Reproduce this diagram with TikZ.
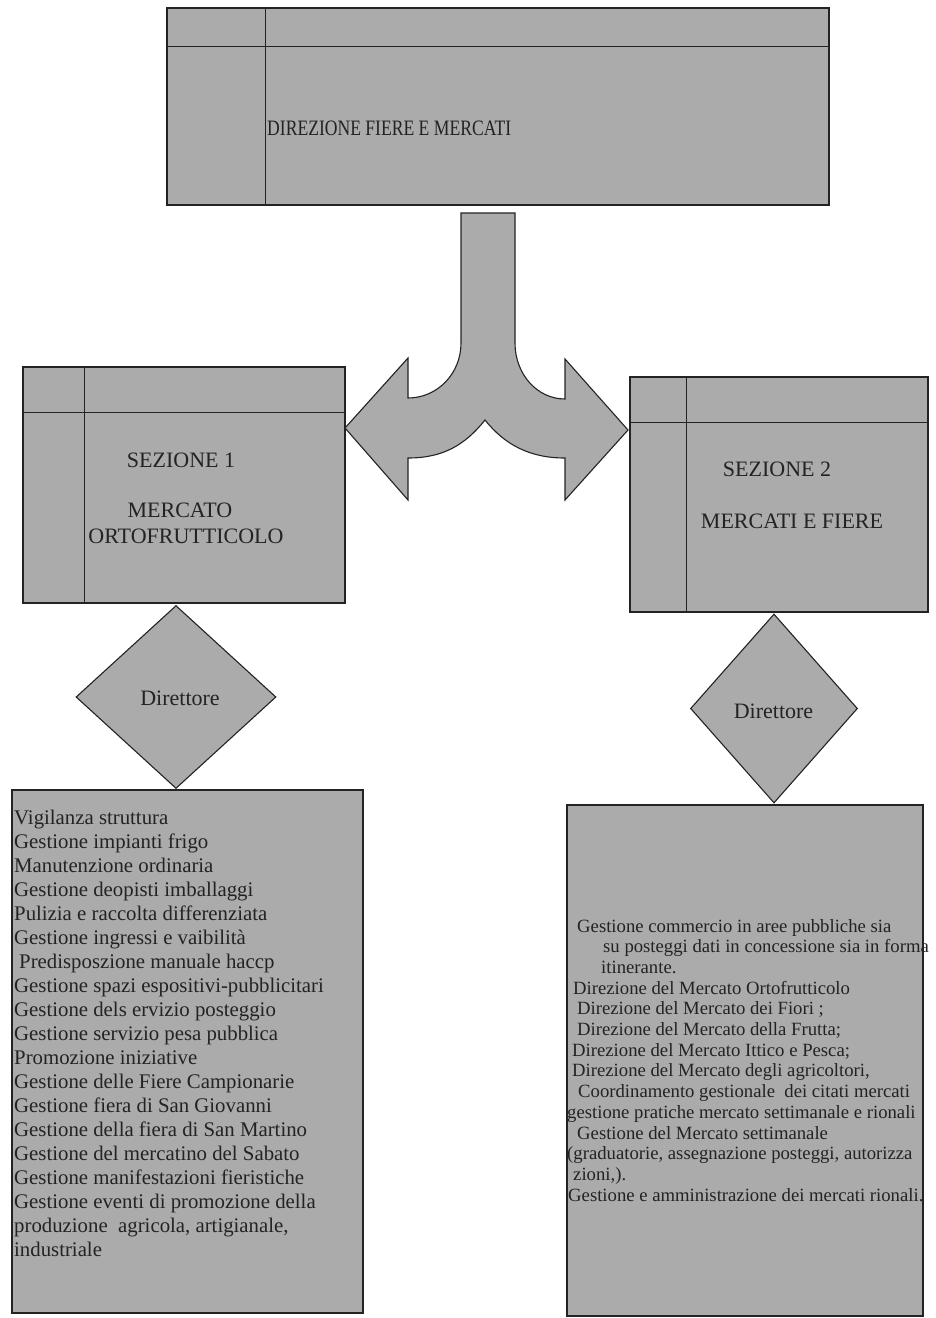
\documentclass[tikz,border=0pt]{standalone}
\usepackage{fontspec}
\setmainfont{Liberation Serif}
\usepackage{graphicx}
\usetikzlibrary{shapes.geometric}
\definecolor{boxgray}{RGB}{171,171,171}
\definecolor{inkgray}{RGB}{35,35,35}

\begin{document}
\begin{tikzpicture}[x=1pt, y=-1pt,
    box/.style={draw=inkgray, line width=1.1pt, fill=boxgray, inner sep=0pt},
    rombo/.style={box, diamond, font=\fontsize{22}{26}\selectfont, text=inkgray},
    riga/.style={draw=inkgray, line width=1.6pt},
    titolo/.style={font=\fontsize{22}{26}\selectfont, text=inkgray, inner sep=0pt},
    voce/.style={anchor=base west, inner sep=0pt, text=inkgray}]
  \useasboundingbox (0,0) rectangle (936,1318);

  % direzione
  \node [box, minimum width=662pt, minimum height=197pt] at (498,106.5) (dir) {};
  \draw [riga] ([yshift=-39pt]dir.north west) -- ([yshift=-39pt]dir.north east);
  \draw [riga] ([xshift=99pt]dir.north west) -- ([xshift=99pt]dir.south west);
  \node [titolo, anchor=base west] at (267,135) (t0) {\scalebox{0.8}[1]{DIREZIONE FIERE E MERCATI}};

  % sezioni
  \node [box, minimum width=322pt, minimum height=236pt] at (184,485) (s1) {};
  \draw [riga] ([yshift=-46pt]s1.north west) -- ([yshift=-46pt]s1.north east);
  \draw [riga] ([xshift=62pt]s1.north west) -- ([xshift=62pt]s1.south west);
  \node [box, minimum width=298pt, minimum height=235pt] at (779,494.5) (s2) {};
  \draw [riga] ([yshift=-46pt]s2.north west) -- ([yshift=-46pt]s2.north east);
  \draw [riga] ([xshift=57pt]s2.north west) -- ([xshift=57pt]s2.south west);

  \node [titolo, anchor=base] at (181,467) (t1) {SEZIONE 1};
  \node [titolo, anchor=base] at (180,517) (t1b) {MERCATO};
  \node [titolo, anchor=base] at (186,543) (t1c) {ORTOFRUTTICOLO};
  \node [titolo, anchor=base] at (777,476) (t2) {SEZIONE 2};
  \node [titolo, anchor=base] at (792,528) (t2b) {MERCATI E FIERE};

  % freccia biforcata
  \filldraw [fill=boxgray, draw=inkgray, line width=1.1pt, line join=miter]
    (461,213) -- (515,213) -- (515,343)
    .. controls (515,374) and (537,399) .. (565,399)
    -- (565,359) -- (628,430) -- (565,500) -- (565,458)
    .. controls (530,458) and (505,445) .. (485,420)
    .. controls (465,445) and (443,458) .. (408,458)
    -- (408,500) -- (345,428) -- (408,358) -- (408,398)
    .. controls (437,398) and (461,374) .. (461,343) -- cycle;

  % direttori
  \node [rombo, minimum width=200pt, minimum height=183pt] at (176,697) (d1) {};
  \node [titolo, anchor=base] at (180,705) {Direttore};
  \node [rombo, minimum width=167pt, minimum height=189pt] at (774,708.5) (d2) {};
  \node [titolo, anchor=base] at (773.5,718) {Direttore};

  % compiti
  \node [box, minimum width=351pt, minimum height=523pt] at (187.5,1051.5) (l1) {};
  \node [box, minimum width=356pt, minimum height=511pt] at (745,1060.5) (l2) {};

  \foreach \dx/\t [count=\i from 0] in {14/Vigilanza struttura, 14/Gestione impianti frigo,
      14/Manutenzione ordinaria, 14/Gestione deopisti imballaggi,
      14/Pulizia e raccolta differenziata, 14/Gestione ingressi e vaibilità,
      19/Predisposzione manuale haccp, 14/Gestione spazi espositivi-pubblicitari,
      14/Gestione dels ervizio posteggio, 14/Gestione servizio pesa pubblica,
      14/Promozione iniziative, 14/Gestione delle Fiere Campionarie,
      14/Gestione fiera di San Giovanni, 14/Gestione della fiera di San Martino,
      14/Gestione del mercatino del Sabato, 14/Gestione manifestazioni fieristiche,
      14/Gestione eventi di promozione della, 14/{produzione\ \ agricola, artigianale,},
      14/industriale}
    \node [voce, font=\fontsize{20.8}{24}\selectfont] at (\dx,824+24.05*\i) (a\i) {\t};

  \foreach \dx/\t [count=\i from 0] in {577/Gestione commercio in aree pubbliche sia,
      603/su posteggi dati in concessione sia in forma, 601/itinerante.,
      573/Direzione del Mercato Ortofrutticolo, 577/Direzione del Mercato dei Fiori ;,
      577/Direzione del Mercato della Frutta;, 572/Direzione del Mercato Ittico e Pesca;,
      572/{Direzione del Mercato degli agricoltori,}, 578/Coordinamento gestionale\ \ dei citati mercati,
      567/gestione pratiche mercato settimanale e rionali, 577/Gestione del Mercato settimanale,
      567/{(graduatorie, assegnazione posteggi, autorizza}, 573/{zioni,).},
      568/Gestione e amministrazione dei mercati rionali.}
    \node [voce, font=\fontsize{18.7}{21}\selectfont] at (\dx,932+20.7*\i) (b\i) {\t};
\end{tikzpicture}
\end{document}
